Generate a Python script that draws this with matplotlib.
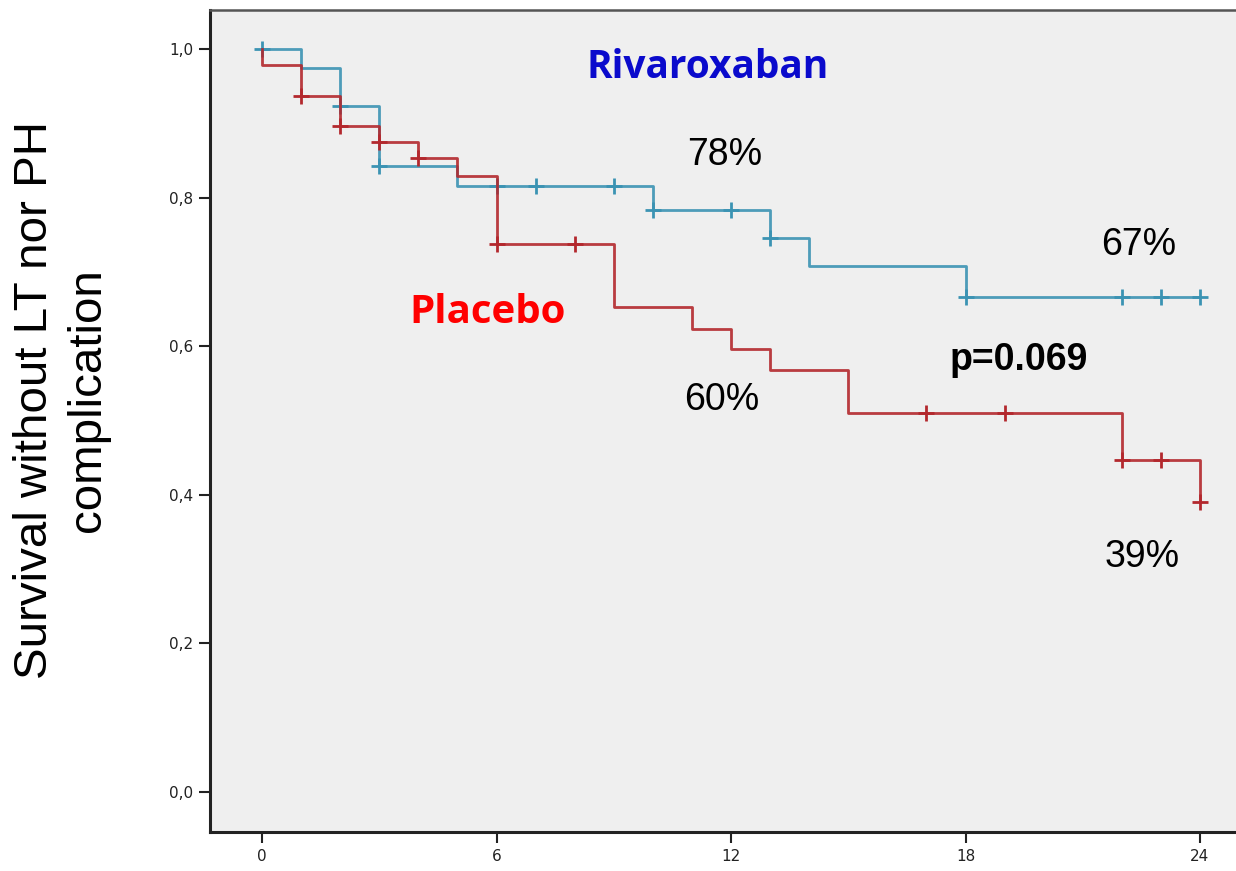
import numpy as np
import matplotlib
matplotlib.use("Agg")
import matplotlib.pyplot as plt
from matplotlib import font_manager as fm

# Kaplan-Meier steps (months, survival)
riva_times = [0, 1, 2, 3, 5, 10, 13, 14, 18, 24]
riva_surv = [1.0, 0.974, 0.923, 0.843, 0.815, 0.783, 0.746, 0.708, 0.666, 0.666]
riva_censor = [0, 2, 3, 6, 7, 9, 10, 12, 13, 18, 22, 23, 24]

plac_times = [0, 0, 1, 2, 3, 4, 5, 6, 9, 11, 12, 13, 15, 22, 24]
plac_surv = [1.0, 0.978, 0.937, 0.896, 0.875, 0.853, 0.829, 0.737, 0.653,
             0.623, 0.596, 0.568, 0.510, 0.447, 0.390]
plac_censor = [1, 2, 3, 4, 6, 8, 17, 19, 22, 23, 24]

x_ticks = [0, 6, 12, 18, 24]
y_ticks = [0.0, 0.2, 0.4, 0.6, 0.8, 1.0]

RIVA_COLOR = "#3b93b3"
PLAC_COLOR = "#b3282d"


def arial_like(bold=False):
    # pick regular Liberation Sans, not the Narrow cut
    for f in fm.fontManager.ttflist:
        if f.name == "Liberation Sans" and "Narrow" not in f.fname \
                and f.style == "normal" and (f.weight >= 600) == bold:
            return fm.FontProperties(fname=f.fname)
    return fm.FontProperties(family="sans-serif",
                             weight="bold" if bold else "normal")


def surv_at(times, surv, t):
    idx = np.searchsorted(times, t, side="right") - 1
    return np.asarray(surv)[idx]


fig = plt.figure(figsize=(12.36, 8.71), dpi=100)
ax = fig.add_axes([0.170, 0.0448, 0.835, 0.9437])
ax.set_facecolor("#efefef")

for times, surv, cens, color in [
    (riva_times, riva_surv, riva_censor, RIVA_COLOR),
    (plac_times, plac_surv, plac_censor, PLAC_COLOR),
]:
    ax.plot(times, surv, drawstyle="steps-post", color=color, lw=2.0, alpha=0.9)
    cy = [surv_at(times, surv, t) for t in cens]
    ax.plot(cens, cy, linestyle="none", marker="|", markersize=12,
            markeredgewidth=2.0, color=color)
    ax.plot(cens, cy, linestyle="none", marker="_", markersize=12,
            markeredgewidth=2.0, color=color)

ax.set_xlim(-1.33, 25.08)
ax.set_ylim(-0.054, 1.0525)
ax.set_xticks(x_ticks)
ax.set_xticklabels([str(t) for t in x_ticks])
ax.set_yticks(y_ticks)
ax.set_yticklabels([f"{v:.1f}".replace(".", ",") for v in y_ticks])
ax.tick_params(axis="both", direction="out", length=8, width=1.5,
               labelsize=11, colors="#222222", pad=4)

for side in ["left", "bottom"]:
    ax.spines[side].set_linewidth(2.2)
    ax.spines[side].set_color("#222222")
ax.spines["top"].set_linewidth(1.8)
ax.spines["top"].set_color("#555555")
ax.spines["right"].set_visible(False)

ax.text(11.39, 0.975, "Rivaroxaban", color="#0a0acc", fontsize=28,
        fontweight="bold", ha="center", va="center", family="Open Sans")
ax.text(5.78, 0.645, "Placebo", color="#ff0000", fontsize=29,
        fontweight="bold", ha="center", va="center", family="Open Sans")

regular = arial_like()
regular.set_size(27)
bold = arial_like(bold=True)
bold.set_size(27)
ax.text(11.85, 0.857, "78%", ha="center", va="center", fontproperties=regular)
ax.text(22.42, 0.736, "67%", ha="center", va="center", fontproperties=regular)
ax.text(11.75, 0.528, "60%", ha="center", va="center", fontproperties=regular)
ax.text(22.52, 0.316, "39%", ha="center", va="center", fontproperties=regular)
ax.text(19.37, 0.581, "p=0.069", ha="center", va="center", fontproperties=bold)

ylab = arial_like()
ylab.set_size(34.2)
fig.text(0.05, 0.541, "Survival without LT nor PH\ncomplication", rotation=90,
         ha="center", va="center", fontproperties=ylab, linespacing=1.26)

fig.savefig("out.png", dpi=100)
